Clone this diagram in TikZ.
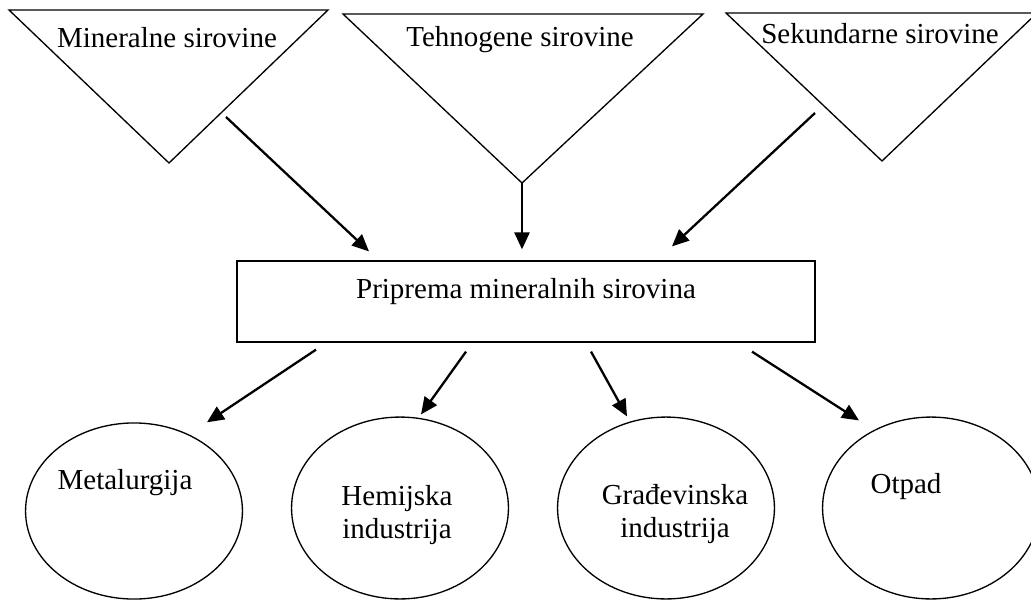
\documentclass[tikz,border=0pt]{standalone}
\usepackage{fontspec}
\setmainfont{Liberation Serif}
\usetikzlibrary{positioning, shapes.geometric, arrows.meta, calc}

\begin{document}
\begin{tikzpicture}[x=0.414pt, y=-0.414pt, font=\fontsize{12}{14}\selectfont,
    line width=0.55pt,
    src/.style={draw, line join=miter},
    box/.style={draw, rectangle, minimum width=239.3pt, minimum height=33.5pt, inner sep=0pt},
    sink/.style={draw, ellipse, minimum width=89.8pt, minimum height=75.3pt, inner sep=0pt},
    txt/.style={anchor=base, inner sep=0pt},
    arr/.style={-{Triangle[length=7pt,width=6.2pt]}, line width=0.95pt}]
  \useasboundingbox (0,0) rectangle (1031,599);

  % sirovine
  \draw[src] (9,10) -- (328,10) -- (169,163) coordinate (min-tip) -- cycle;
  \draw[src] (343,14) -- (703,14) -- (522,183) coordinate (teh-tip) -- cycle;
  \draw[src] (726,13) -- (1037,13) -- (882,161) coordinate (sek-tip) -- cycle;
  \node[txt] (min) at (167,47) {Mineralne sirovine};
  \node[txt] (teh) at (520,46) {Tehnogene sirovine};
  \node[txt] (sek) at (880,43) {Sekundarne sirovine};

  % priprema
  \node[box, text height=8.2pt, text depth=11.1pt] (prep) at (526,301.5) {Priprema mineralnih sirovina};

  % potrosaci
  \node[sink, minimum height=72.9pt] (met) at (134,511) {};
  \node[sink] (hem) at (400,508) {};
  \node[sink] (gra) at (666,508) {};
  \node[sink] (otp) at (931,508) {};
  \node[txt] (met-txt) at (125,489) {Metalurgija};
  \node[inner sep=0pt, align=center] (hem-txt) at (397,515) {Hemijska\\industrija};
  \node[inner sep=0pt, align=center] (gra-txt) at (675,514) {Građevinska\\industrija};
  \node[txt] (otp-txt) at (906,493) {Otpad};

  \draw[arr] ($(min-tip)+(57,-46)$) -- ($(prep.north)+(-157,-9)$);
  \draw[arr] (teh-tip) -- ($(prep.north)+(-4,-11)$);
  \draw[arr] ($(sek-tip)+(-67,-48)$) -- ($(prep.north)+(146,-14)$);

  \draw[arr] ($(prep.south)+(-210,7)$) -- ($(met.north)+(73,0)$);
  \draw[arr] ($(prep.south)+(-60,9)$) -- ($(hem.north)+(21,-2)$);
  \draw[arr] ($(prep.south)+(65,9)$) -- ($(gra.north)+(-39,0)$);
  \draw[arr] ($(prep.south)+(226,9)$) -- ($(otp.north)+(-72,4)$);
\end{tikzpicture}
\end{document}
